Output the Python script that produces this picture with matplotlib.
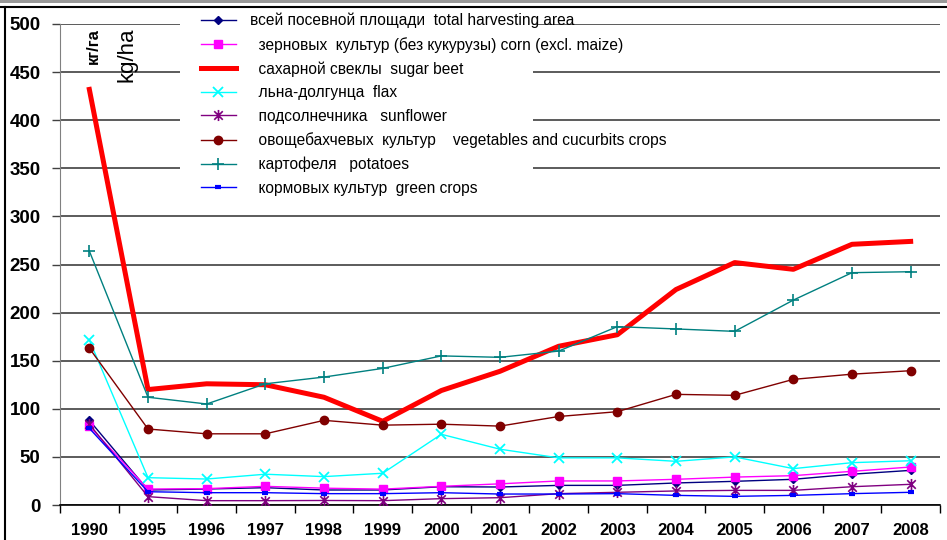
import matplotlib
matplotlib.use("Agg")
import matplotlib.pyplot as plt
from matplotlib.path import Path
from matplotlib.patches import Rectangle
from matplotlib.ticker import FixedLocator, NullFormatter

plt.rcParams['font.family'] = ['Liberation Sans', 'DejaVu Sans']

years = ["1990", "1995", "1996", "1997", "1998", "1999", "2000", "2001",
         "2002", "2003", "2004", "2005", "2006", "2007", "2008"]

total_area = [88, 15.6, 16.6, 18, 15.6, 15.6, 19, 18.7, 20.4, 20.4, 22.9, 24.6, 26.7, 32, 36]
corn = [82, 16.6, 17, 19.4, 17.5, 16.5, 19.4, 22, 25, 25, 26.7, 29, 30.5, 35, 39.5]
sugar_beet = [432, 120, 126, 125, 112, 87, 119, 139, 165, 177, 224, 252, 245, 271, 274]
flax = [171.5, 28.4, 27, 32, 29.5, 33, 73.5, 58, 49, 49, 45.4, 50, 37.8, 44, 46]
sunflower = [84, 8.7, 4.5, 4.5, 4.7, 4.5, 6.6, 7.6, 11.8, 13.2, 14.6, 15.2, 15.2, 19, 21.5]
vegetables = [163, 79, 74, 74, 88, 83, 84, 82, 92, 97, 115, 114, 130.6, 136, 139.6]
potatoes = [264, 112, 105, 126, 133, 142, 155, 153.5, 160, 185.4, 183, 180.5, 213, 241.5, 242.5]
green_crops = [79.7, 13.8, 12.8, 12.8, 11.8, 11.8, 12.8, 11.4, 11.4, 11.8, 10, 9, 10, 11.8, 13.2]

labels = [
    "всей посевной площади  total harvesting area",
    "  зерновых  культур (без кукурузы) corn (excl. maize)",
    "  сахарной свеклы  sugar beet",
    "  льна-долгунца  flax",
    "  подсолнечника   sunflower",
    "  овощебахчевых  культур    vegetables and cucurbits crops",
    "  картофеля   potatoes",
    "  кормовых культур  green crops",
]
y_ticks = [0, 50, 100, 150, 200, 250, 300, 350, 400, 450, 500]

asterisk = Path([(-1, -1), (1, 1), (-1, 1), (1, -1), (0, -1.3), (0, 1.3)],
                [Path.MOVETO, Path.LINETO, Path.MOVETO, Path.LINETO, Path.MOVETO, Path.LINETO])

W, H = 947, 540
fig = plt.figure(figsize=(W / 100, H / 100), dpi=100)
ax = fig.add_axes([60 / W, 1 - 505 / H, (940 - 60) / W, (505 - 24) / H])

x = list(range(len(years)))
styles = [
    (total_area, dict(color='#000080', lw=1.0, marker='D', ms=4.5, mec='#000080', mfc='#000080')),
    (corn, dict(color='#FF00FF', lw=1.0, marker='s', ms=6, mec='#FF00FF', mfc='#FF00FF')),
    (sugar_beet, dict(color='#FF0000', lw=3.6, marker=None)),
    (flax, dict(color='#00FFFF', lw=1.0, marker='x', ms=7, mew=1.3)),
    (sunflower, dict(color='#800080', lw=1.0, marker=asterisk, ms=8, mew=1.2, mfc='none')),
    (vegetables, dict(color='#800000', lw=1.0, marker='o', ms=6, mec='#800000', mfc='#800000')),
    (potatoes, dict(color='#008080', lw=1.0, marker='+', ms=9, mew=1.2)),
    (green_crops, dict(color='#0000FF', lw=1.0, marker='_', ms=5, mew=3)),
]
handles = []
for (vals, st), lab in zip(styles, labels):
    h, = ax.plot(x, vals, label=lab, zorder=3, **st)
    handles.append(h)

ax.set_xlim(-0.5, len(years) - 0.5)
ax.set_ylim(0, 500)
ax.set_yticks(y_ticks)
ax.set_yticklabels([str(v) for v in y_ticks], fontsize=13.5, fontweight='bold')
ax.yaxis.grid(True, color='#404040', lw=1.2)
ax.set_axisbelow(True)
ax.tick_params(axis='y', length=6, width=1, color='#404040', pad=8)

ax.set_xticks(x)
ax.set_xticklabels(years, fontsize=12, fontweight='bold')
ax.tick_params(axis='x', which='major', length=0, pad=13)
ax.xaxis.set_minor_locator(FixedLocator([i - 0.5 for i in range(len(years) + 1)]))
ax.xaxis.set_minor_formatter(NullFormatter())
ax.tick_params(axis='x', which='minor', length=6, width=1, color='black')

for s in ['top', 'right']:
    ax.spines[s].set_visible(False)
ax.spines['left'].set_color('#808080')
ax.spines['bottom'].set_color('black')
ax.spines['bottom'].set_linewidth(1.2)

ax.text((93 - 60) / 880, 1 - (28 - 24) / 481, "кг/га", transform=ax.transAxes, rotation=90,
        va='top', ha='center', fontsize=12, fontweight='bold')
ax.text((127 - 60) / 880, 1 - (27 - 24) / 481, "kg/ha", transform=ax.transAxes, rotation=90,
        va='top', ha='center', fontsize=16)

# white background behind legend
fig.add_artist(Rectangle((180 / W, 1 - 200 / H), (533 - 180) / W, (200 - 8) / H,
                         transform=fig.transFigure, facecolor='white', edgecolor='none', zorder=4))
fig.legend(handles=handles, loc='upper left', bbox_to_anchor=(193 / W, 1 - 5 / H),
           frameon=False, borderpad=0, fontsize=11.2, labelspacing=0.55,
           handlelength=2.25, handletextpad=0.9)

# figure border
fig.add_artist(Rectangle((0, 1 - 3 / H), 1, 3 / H, transform=fig.transFigure,
                         facecolor='#999999', edgecolor='none', zorder=6))
fig.add_artist(plt.Line2D([0, 1], [1 - 6.5 / H, 1 - 6.5 / H], transform=fig.transFigure,
                          color='black', lw=1.5, zorder=6))
fig.add_artist(plt.Line2D([5 / W, 5 / W], [0, 1 - 6.5 / H], transform=fig.transFigure,
                          color='black', lw=1.5, zorder=6))

fig.savefig("out.png", dpi=100)
